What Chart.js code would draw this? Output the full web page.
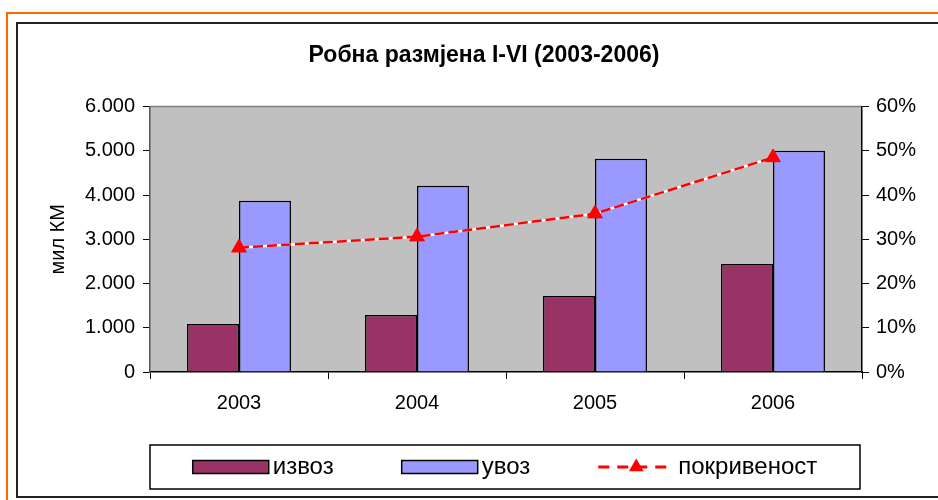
<!DOCTYPE html>
<html>
<head>
<meta charset="utf-8">
<script src="https://cdn.jsdelivr.net/npm/chart.js@4.4.0/dist/chart.umd.min.js"></script>
<style>
     html, body { margin: 0; padding: 0; background: #fff; overflow: hidden; }
     #wrap { position: relative; width: 938px; height: 500px; overflow: hidden; }
     #orange { position: absolute; left: 6px; top: 12px; width: 1000px; height: 600px; border: 2px solid #ff6600; }
     #frame { position: absolute; left: 16px; top: 22px; width: 1000px; height: 472px; border: 2px solid #222; }
     canvas { position: absolute; left: 0; top: 0; }
</style>
</head>
<body>
<div id="wrap">
     <div id="orange"></div>
     <div id="frame"></div>
     <canvas id="chart" width="938" height="500"></canvas>
</div>
<script>
// data
const years = ["2003", "2004", "2005", "2006"];
const izvoz = [1087, 1290, 1720, 2440];
const uvoz = [3870, 4210, 4820, 5000];
const pokrivenost = [28.1, 30.6, 35.8, 48.5];

const FONT = '"Liberation Sans", Arial, sans-serif';

const fmtThousands = (v) => String(v).replace(/\B(?=(\d{3})+(?!\d))/g, ".");

// gray plot area with a thin frame
const plotBg = {
     id: "plotBg",
     beforeDraw(chart) {
          const { ctx, chartArea: a } = chart;
          ctx.save();
          ctx.fillStyle = "#c0c0c0";
          ctx.fillRect(a.left, a.top, a.right - a.left, a.bottom - a.top);
          ctx.strokeStyle = "#808080";
          ctx.lineWidth = 1.5;
          ctx.beginPath();
          ctx.moveTo(a.left, a.top);
          ctx.lineTo(a.right, a.top);
          ctx.stroke();
          ctx.restore();
     },
};

// boxed legend under the axis, built from the datasets
const boxLegend = {
     id: "boxLegend",
     afterDraw(chart) {
          const ctx = chart.ctx;
          const box = { l: 150, t: 445, r: 860, b: 489 };
          const sw = 76, gap = 4, sp = 68;
          ctx.save();
          ctx.strokeStyle = "#000";
          ctx.lineWidth = 1.5;
          ctx.strokeRect(box.l, box.t, box.r - box.l, box.b - box.t);
          ctx.font = "24px " + FONT;
          ctx.textBaseline = "middle";
          const items = chart.data.datasets.filter((d) => !d.label.startsWith("_"));
          const tw = items.map((d) => ctx.measureText(d.label).width);
          const total = tw.reduce((s, w) => s + sw + gap + w, 0) + sp * (items.length - 1);
          let x = (box.l + box.r) / 2 - total / 2;
          const cy = (box.t + box.b) / 2;
          items.forEach((d, i) => {
               if (d.type === "line") {
                    ctx.strokeStyle = d.borderColor;
                    ctx.lineWidth = 3;
                    ctx.setLineDash([11, 8]);
                    ctx.beginPath();
                    ctx.moveTo(x, cy);
                    ctx.lineTo(x + sw, cy);
                    ctx.stroke();
                    ctx.setLineDash([]);
                    const r = d.pointRadius;
                    const mx = x + sw / 2;
                    ctx.fillStyle = d.pointBackgroundColor;
                    ctx.beginPath();
                    ctx.moveTo(mx, cy - r);
                    ctx.lineTo(mx + r * 0.866, cy + r / 2);
                    ctx.lineTo(mx - r * 0.866, cy + r / 2);
                    ctx.closePath();
                    ctx.fill();
               } else {
                    ctx.fillStyle = d.backgroundColor;
                    ctx.fillRect(x, cy - 6.5, sw, 13);
                    ctx.strokeStyle = "#000";
                    ctx.lineWidth = 1.5;
                    ctx.strokeRect(x, cy - 6.5, sw, 13);
               }
               ctx.fillStyle = "#000";
               ctx.fillText(d.label, x + sw + gap, cy);
               x += sw + gap + tw[i] + sp;
          });
          ctx.restore();
     },
};

const ctx = document.getElementById("chart").getContext("2d");
new Chart(ctx, {
     data: {
          labels: years,
          datasets: [
               {
                    type: "bar",
                    label: "извоз",
                    data: izvoz,
                    backgroundColor: "#993366",
                    borderColor: "#000",
                    borderWidth: 1.5,
                    categoryPercentage: 0.584,
                    barPercentage: 1,
                    yAxisID: "y",
                    order: 2,
               },
               {
                    type: "bar",
                    label: "увоз",
                    data: uvoz,
                    backgroundColor: "#9999ff",
                    borderColor: "#000",
                    borderWidth: 1.5,
                    categoryPercentage: 0.584,
                    barPercentage: 1,
                    yAxisID: "y",
                    order: 2,
               },
               {
                    type: "line",
                    label: "покривеност",
                    data: pokrivenost,
                    yAxisID: "y1",
                    borderColor: "#ff0000",
                    borderWidth: 2.5,
                    borderDash: [10, 4],
                    pointStyle: "triangle",
                    pointRadius: 8.5,
                    pointBackgroundColor: "#ff0000",
                    pointBorderColor: "#ff0000",
                    pointBorderWidth: 1,
                    tension: 0,
                    order: 0,
               },
               {
                    // white line under the red dashes
                    type: "line",
                    label: "_under",
                    data: pokrivenost,
                    yAxisID: "y1",
                    borderColor: "#ffffff",
                    borderWidth: 2.5,
                    pointRadius: 0,
                    tension: 0,
                    order: 1,
               },
          ],
     },
     options: {
          responsive: false,
          animation: false,
          layout: {
               padding: { left: 30, right: 0, top: 0, bottom: 86 },
          },
          plugins: {
               legend: { display: false },
               tooltip: { enabled: false },
               title: {
                    display: true,
                    text: "Робна размјена I-VI (2003-2006)",
                    color: "#000",
                    font: { family: FONT, size: 23, weight: "bold" },
                    padding: { top: 42, bottom: 37 },
               },
          },
          scales: {
               x: {
                    grid: {
                         offset: true,
                         drawOnChartArea: false,
                         color: "#000",
                         tickLength: 7,
                    },
                    border: { color: "#000", width: 1.5 },
                    ticks: {
                         color: "#000",
                         font: { family: FONT, size: 20 },
                         padding: 12,
                    },
                    afterFit(scale) {
                         scale.height = 42;
                    },
               },
               y: {
                    position: "left",
                    min: 0,
                    max: 6000,
                    grid: { drawOnChartArea: false, color: "#000", tickLength: 7 },
                    border: { color: "#555", width: 1.5 },
                    ticks: {
                         stepSize: 1000,
                         color: "#000",
                         padding: 8,
                         font: { family: FONT, size: 20 },
                         callback: (v) => fmtThousands(v),
                    },
                    title: {
                         display: true,
                         text: "мил КМ",
                         color: "#000",
                         font: { family: FONT, size: 20 },
                         padding: { top: 16, bottom: 0 },
                    },
                    afterFit(scale) {
                         scale.width = 120;
                    },
               },
               y1: {
                    position: "right",
                    min: 0,
                    max: 60,
                    grid: { drawOnChartArea: false, color: "#000", tickLength: 7 },
                    border: { color: "#000", width: 1.5 },
                    ticks: {
                         stepSize: 10,
                         color: "#000",
                         padding: 7,
                         font: { family: FONT, size: 20 },
                         callback: (v) => v + "%",
                    },
                    afterFit(scale) {
                         scale.width = 76;
                    },
               },
          },
     },
     plugins: [plotBg, boxLegend],
});
</script>
</body>
</html>
